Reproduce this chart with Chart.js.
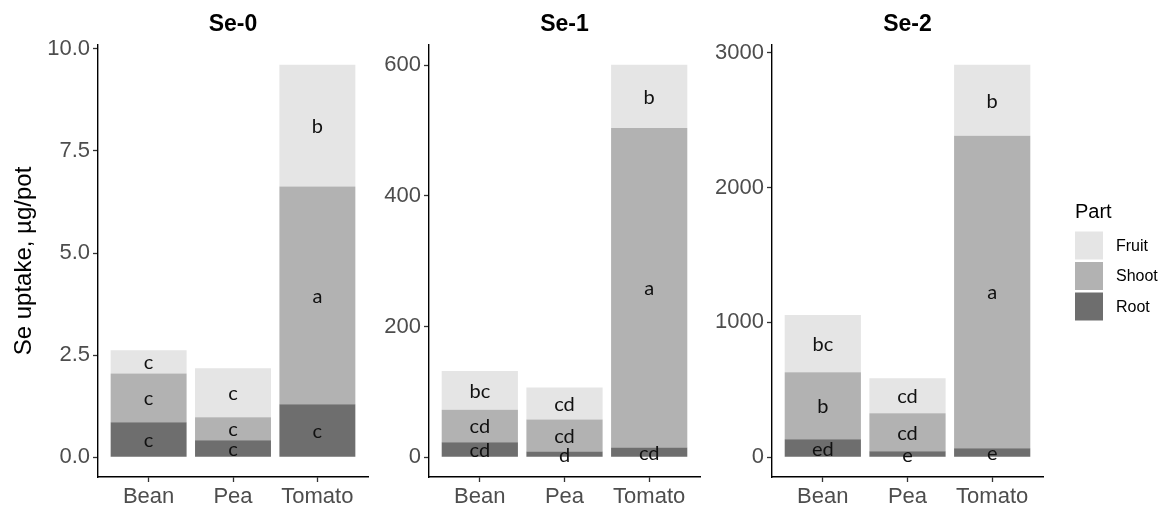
<!DOCTYPE html>
<html>
<head>
<meta charset="utf-8">
<script src="https://cdn.jsdelivr.net/npm/chart.js@4.4.1/dist/chart.umd.min.js"></script>
<style>
  html, body { margin: 0; padding: 0; background: #ffffff; }
  #wrap { position: relative; width: 1161px; height: 506px; overflow: hidden; background: #ffffff; }
  #wrap canvas { position: absolute; top: 0; }
</style>
</head>
<body>
<div id="wrap">
  <canvas id="se0" width="380" height="506" style="left:0px"></canvas>
  <canvas id="se1" width="330" height="506" style="left:380px"></canvas>
  <canvas id="se2" width="451" height="506" style="left:710px"></canvas>
</div>
<script>
// Crops on the x axis and plant parts stacked in each bar (bottom to top)
const crops = ['Bean', 'Pea', 'Tomato'];
const parts = ['Root', 'Shoot', 'Fruit'];
const partColors = ['#6e6e6e', '#b2b2b2', '#e5e5e5'];

// Se uptake (µg/pot), treatment Se-0
const se0Root  = [0.86, 0.42, 1.30];
const se0Shoot = [1.19, 0.56, 5.33];
const se0Fruit = [0.57, 1.20, 2.98];
const se0RootLetters  = ['c', 'c', 'c'];
const se0ShootLetters = ['c', 'c', 'a'];
const se0FruitLetters = ['c', 'c', 'b'];
const se0TickValues = [0, 2.5, 5, 7.5, 10];
const se0TickLabels = ['0.0', '2.5', '5.0', '7.5', '10.0'];

// Treatment Se-1
const se1Root  = [23, 9, 15];
const se1Shoot = [50, 49, 489];
const se1Fruit = [59, 49, 97];
const se1RootLetters  = ['cd', 'd', 'cd'];
const se1ShootLetters = ['cd', 'cd', 'a'];
const se1FruitLetters = ['bc', 'cd', 'b'];
const se1TickValues = [0, 200, 400, 600];
const se1TickLabels = ['0', '200', '400', '600'];

// Treatment Se-2
const se2Root  = [134, 45, 67];
const se2Shoot = [497, 282, 2316];
const se2Fruit = [423, 259, 527];
const se2RootLetters  = ['ed', 'e', 'e'];
const se2ShootLetters = ['b', 'cd', 'a'];
const se2FruitLetters = ['bc', 'cd', 'b'];
const se2TickValues = [0, 1000, 2000, 3000];
const se2TickLabels = ['0', '1000', '2000', '3000'];

const yTitle = 'Se uptake, µg/pot';
const legendTitle = 'Part';

const SANS = '"Liberation Sans", Arial, Helvetica, sans-serif';

// Significance letters centred in each stacked segment
const segLetters = {
  id: 'segLetters',
  afterDatasetsDraw(chart) {
    const ctx = chart.ctx;
    ctx.save();
    ctx.font = '20px Lato, "Open Sans", sans-serif';
    ctx.fillStyle = '#111111';
    ctx.textAlign = 'center';
    ctx.textBaseline = 'middle';
    chart.data.datasets.forEach((ds, di) => {
      const meta = chart.getDatasetMeta(di);
      meta.data.forEach((bar, i) => {
        const txt = ds.letters && ds.letters[i];
        if (!txt) return;
        const p = bar.getProps(['x', 'y', 'base'], true);
        ctx.fillText(txt, p.x, (p.y + p.base) / 2 + 1);
      });
    });
    ctx.restore();
  }
};

// Fill legend listing the parts from top of stack to bottom
const partLegend = {
  id: 'partLegend',
  afterDraw(chart, args, opts) {
    if (!opts || !opts.display) return;
    const ctx = chart.ctx;
    ctx.save();
    ctx.textBaseline = 'middle';
    ctx.textAlign = 'left';
    ctx.fillStyle = '#000000';
    ctx.font = '20px ' + SANS;
    ctx.fillText(opts.title, opts.x, opts.titleY);
    const items = chart.data.datasets.slice().reverse();
    items.forEach((ds, i) => {
      const top = opts.y + i * opts.pitch;
      ctx.fillStyle = ds.backgroundColor;
      ctx.fillRect(opts.x, top, opts.box, opts.box);
      ctx.fillStyle = '#000000';
      ctx.font = '16px ' + SANS;
      ctx.fillText(ds.label, opts.x + opts.box + opts.gap, top + opts.box / 2 + 1);
    });
    ctx.restore();
  }
};

function makePanel(cfg) {
  const series = [cfg.root, cfg.shoot, cfg.fruit];
  const letters = [cfg.rootLetters, cfg.shootLetters, cfg.fruitLetters];
  const totals = crops.map((_, i) => series.reduce((s, arr) => s + arr[i], 0));
  const top = Math.max(...totals);

  const datasets = parts.map((p, k) => ({
    label: p,
    data: series[k].map((v, i) => ({ x: i + 1, y: v })),
    letters: letters[k],
    backgroundColor: partColors[k],
    borderWidth: 0,
    barPercentage: 0.9,
    categoryPercentage: 1.0
  }));

  return new Chart(document.getElementById(cfg.id), {
    type: 'bar',
    data: { datasets },
    plugins: [segLetters, partLegend],
    options: {
      responsive: false,
      animation: false,
      devicePixelRatio: 1,
      layout: { padding: { left: 0, right: cfg.padRight, top: 0, bottom: 0 } },
      plugins: {
        legend: { display: false },
        tooltip: { enabled: false },
        title: {
          display: true,
          text: cfg.title,
          fullSize: false,
          color: '#000000',
          font: { family: SANS, size: 23, weight: 'bold', lineHeight: 1.2 },
          padding: { top: 11, bottom: 6.4 }
        },
        partLegend: cfg.legend || { display: false }
      },
      scales: {
        x: {
          type: 'linear',
          stacked: true,
          offset: false,
          min: 0.4,
          max: 3.6,
          afterBuildTicks: (s) => { s.ticks = crops.map((_, i) => ({ value: i + 1 })); },
          afterFit: (s) => { s.height = 29; },
          ticks: {
            autoSkip: false,
            maxRotation: 0,
            padding: 2,
            color: '#4d4d4d',
            font: { family: SANS, size: 22 },
            callback: (v) => crops[v - 1]
          },
          grid: {
            display: true,
            drawOnChartArea: false,
            drawTicks: true,
            offset: false,
            tickLength: 5,
            tickColor: '#333333',
            tickWidth: 1.3
          },
          border: { display: true, color: '#000000', width: 1.4 }
        },
        y: {
          type: 'linear',
          stacked: true,
          min: -0.05 * top,
          max: 1.05 * top,
          afterBuildTicks: (s) => { s.ticks = cfg.tickValues.map((v) => ({ value: v })); },
          afterFit: (s) => { s.width = cfg.left; },
          ticks: {
            padding: 3,
            color: '#4d4d4d',
            font: { family: SANS, size: 22 },
            callback: (v) => cfg.tickLabels[cfg.tickValues.indexOf(v)]
          },
          grid: {
            display: true,
            drawOnChartArea: false,
            drawTicks: true,
            tickLength: 5,
            tickColor: '#333333',
            tickWidth: 1.3
          },
          border: { display: true, color: '#000000', width: 1.4 },
          title: {
            display: !!cfg.showYTitle,
            text: yTitle,
            color: '#000000',
            font: { family: SANS, size: 24, lineHeight: 1.2 },
            padding: { top: 10, bottom: 0 }
          }
        }
      }
    }
  });
}

makePanel({
  id: 'se0', title: 'Se-0', left: 98, padRight: 12, showYTitle: true,
  root: se0Root, shoot: se0Shoot, fruit: se0Fruit,
  rootLetters: se0RootLetters, shootLetters: se0ShootLetters, fruitLetters: se0FruitLetters,
  tickValues: se0TickValues, tickLabels: se0TickLabels
});

makePanel({
  id: 'se1', title: 'Se-1', left: 49, padRight: 10,
  root: se1Root, shoot: se1Shoot, fruit: se1Fruit,
  rootLetters: se1RootLetters, shootLetters: se1ShootLetters, fruitLetters: se1FruitLetters,
  tickValues: se1TickValues, tickLabels: se1TickLabels
});

makePanel({
  id: 'se2', title: 'Se-2', left: 62, padRight: 118,
  root: se2Root, shoot: se2Shoot, fruit: se2Fruit,
  rootLetters: se2RootLetters, shootLetters: se2ShootLetters, fruitLetters: se2FruitLetters,
  tickValues: se2TickValues, tickLabels: se2TickLabels,
  legend: { display: true, title: legendTitle, x: 365, titleY: 212, y: 231.5, pitch: 30.5, box: 28, gap: 13 }
});
</script>
</body>
</html>
